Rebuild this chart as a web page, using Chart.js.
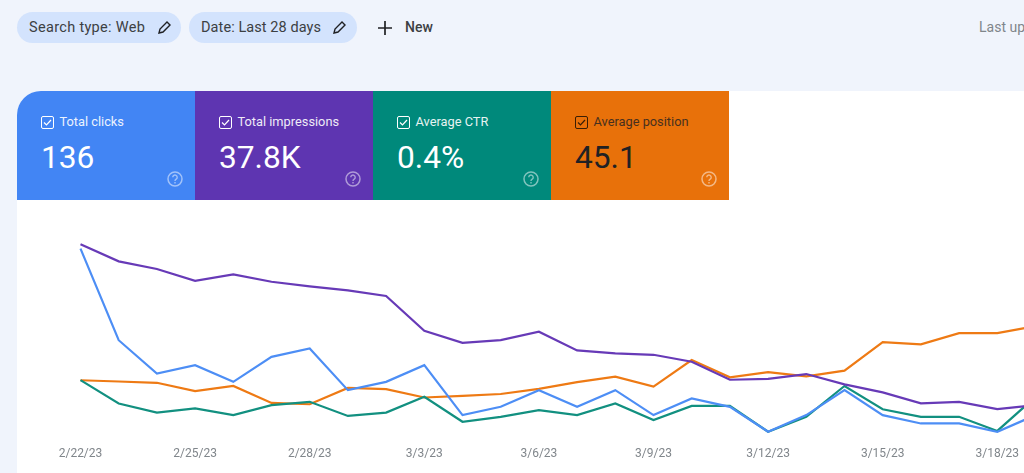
<!DOCTYPE html>
<html>
<head>
<meta charset="utf-8">
<title>Performance</title>
<script src="https://cdn.jsdelivr.net/npm/chart.js@4"></script>
<style>
    html, body { margin: 0; padding: 0; width: 1024px; height: 473px; overflow: hidden; background: #f0f4fc; font-family: Roboto, sans-serif; }
    .chip { position: absolute; top: 12px; height: 31px; border-radius: 16px; background: #d3e3fd; color: #3c4043; font-size: 14.5px; line-height: 31px; box-sizing: border-box; padding-left: 12px; white-space: nowrap; }
    .chip svg { position: absolute; top: 8px; width: 15px; height: 15px; }
    #newBtn { position: absolute; left: 405px; top: 12px; line-height: 31px; font-size: 14px; font-weight: 500; color: #3c4043; }
    #plus { position: absolute; left: 377px; top: 20px; width: 16px; height: 16px; }
    #updated { position: absolute; left: 979px; top: 12px; line-height: 31px; font-size: 14px; color: #80868b; white-space: nowrap; }
    #panel { position: absolute; left: 17px; top: 91px; width: 1007px; height: 382px; background: #fff; border-top-left-radius: 24px; overflow: hidden; }
    .card { position: absolute; top: 0; width: 178px; height: 109px; color: #fff; }
    .card .label { position: absolute; left: 42.5px; top: 22px; font-size: 12.8px; line-height: 18px; white-space: nowrap; opacity: .9; }
    .card .value { position: absolute; left: 24px; top: 47.5px; font-size: 31.7px; line-height: 38px; white-space: nowrap; }
    .card svg.box { position: absolute; left: 24px; top: 25px; width: 13px; height: 13px; }
    .card svg.help { position: absolute; left: 150px; top: 80px; width: 16px; height: 16px; opacity: .5; }
    #chartCanvas { position: absolute; left: 0; top: 200px; }
</style>
</head>
<body>
<div class="chip" style="left:17px;width:164px;letter-spacing:.32px">Search type: Web
    <svg style="left:140px" viewBox="0 0 15 15"><path d="M2 13l1-4 7-7 3 3-7 7z" fill="none" stroke="#202124" stroke-width="1.4"/></svg>
</div>
<div class="chip" style="left:189px;width:168px;letter-spacing:.08px">Date: Last 28 days
    <svg style="left:143px" viewBox="0 0 15 15"><path d="M2 13l1-4 7-7 3 3-7 7z" fill="none" stroke="#202124" stroke-width="1.4"/></svg>
</div>
<svg id="plus" viewBox="0 0 16 16"><path d="M8 1v14M1 8h14" stroke="#202124" stroke-width="1.7"/></svg>
<div id="newBtn">New</div>
<div id="updated">Last updated</div>

<div id="panel">
    <div class="card" style="left:0;background:#4285f4">
        <svg class="box" viewBox="0 0 13 13"><rect x=".5" y=".5" width="12" height="12" rx="1.5" fill="none" stroke="#fff"/><path d="M3 6.5l2.5 2.5 4.5-5" fill="none" stroke="#fff" stroke-width="1.2"/></svg>
        <div class="label">Total clicks</div><div class="value">136</div>
        <svg class="help" viewBox="0 0 16 16"><circle cx="8" cy="8" r="7" fill="none" stroke="#fff" stroke-width="1.5"/><path d="M5.8 6.3a2.2 2.2 0 1 1 3.4 1.8c-.8.5-1.2.9-1.2 1.8M8 11v1.4" fill="none" stroke="#fff" stroke-width="1.4"/></svg>
    </div>
    <div class="card" style="left:178px;background:#5e35b1">
        <svg class="box" viewBox="0 0 13 13"><rect x=".5" y=".5" width="12" height="12" rx="1.5" fill="none" stroke="#fff"/><path d="M3 6.5l2.5 2.5 4.5-5" fill="none" stroke="#fff" stroke-width="1.2"/></svg>
        <div class="label">Total impressions</div><div class="value">37.8K</div>
        <svg class="help" viewBox="0 0 16 16"><circle cx="8" cy="8" r="7" fill="none" stroke="#fff" stroke-width="1.5"/><path d="M5.8 6.3a2.2 2.2 0 1 1 3.4 1.8c-.8.5-1.2.9-1.2 1.8M8 11v1.4" fill="none" stroke="#fff" stroke-width="1.4"/></svg>
    </div>
    <div class="card" style="left:356px;background:#00897b">
        <svg class="box" viewBox="0 0 13 13"><rect x=".5" y=".5" width="12" height="12" rx="1.5" fill="none" stroke="#fff"/><path d="M3 6.5l2.5 2.5 4.5-5" fill="none" stroke="#fff" stroke-width="1.2"/></svg>
        <div class="label">Average CTR</div><div class="value">0.4%</div>
        <svg class="help" viewBox="0 0 16 16"><circle cx="8" cy="8" r="7" fill="none" stroke="#fff" stroke-width="1.5"/><path d="M5.8 6.3a2.2 2.2 0 1 1 3.4 1.8c-.8.5-1.2.9-1.2 1.8M8 11v1.4" fill="none" stroke="#fff" stroke-width="1.4"/></svg>
    </div>
    <div class="card" style="left:534px;background:#e8710a;color:#202124">
        <svg class="box" viewBox="0 0 13 13"><rect x=".5" y=".5" width="12" height="12" rx="1.5" fill="none" stroke="#3a1f05"/><path d="M3 6.5l2.5 2.5 4.5-5" fill="none" stroke="#3a1f05" stroke-width="1.2"/></svg>
        <div class="label" style="opacity:.8">Average position</div><div class="value">45.1</div>
        <svg class="help" viewBox="0 0 16 16"><circle cx="8" cy="8" r="7" fill="none" stroke="#fff" stroke-width="1.5"/><path d="M5.8 6.3a2.2 2.2 0 1 1 3.4 1.8c-.8.5-1.2.9-1.2 1.8M8 11v1.4" fill="none" stroke="#fff" stroke-width="1.4"/></svg>
    </div>
</div>
<canvas id="chartCanvas" width="1100" height="273"></canvas>

<script>
// Giá trị, mỗi ngày một điểm
const days = ['2/22/23','2/23/23','2/24/23','2/25/23','2/26/23','2/27/23','2/28/23','3/1/23','3/2/23','3/3/23','3/4/23','3/5/23','3/6/23','3/7/23','3/8/23','3/9/23','3/10/23','3/11/23','3/12/23','3/13/23','3/14/23','3/15/23','3/16/23','3/17/23','3/18/23','3/19/23'];
const clicks = [23,12,8,9,7,10,11,6,7,9,3,4,6,4,6,3,5,4,1,3,6,3,2,2,1,3];
const impressions = [2822,2577,2466,2297,2390,2283,2216,2159,2077,1576,1403,1442,1562,1293,1250,1230,1129,870,884,952,803,688,529,552,447,505];
const ctr = [0.72,0.44,0.33,0.38,0.30,0.42,0.46,0.29,0.33,0.52,0.22,0.28,0.36,0.30,0.44,0.24,0.41,0.41,0.10,0.28,0.65,0.37,0.28,0.28,0.11,0.52];
const position = [46.3,46.7,47.1,49.7,48.1,53.4,53.8,48.7,49.1,51.7,51.2,50.6,49.0,46.9,45.2,48.3,40.0,45.4,43.8,45.1,43.3,34.4,35.1,31.6,31.6,29.4];

function lineSeries(label, data, color, axisId) {
    return { label: label, data: data, borderColor: color, backgroundColor: color, borderWidth: 2.2, pointRadius: 0, tension: 0, yAxisID: axisId };
}

function hiddenAxis(max, reverse) {
    return { display: false, min: 0, max: max, reverse: reverse };
}

new Chart(document.getElementById('chartCanvas').getContext('2d'), {
    type: 'line',
    data: {
        labels: days,
        datasets: [
            lineSeries('Clicks', clicks, '#4d8ef5', 'yClicks'),
            lineSeries('Impressions', impressions, '#673ab7', 'yImpressions'),
            lineSeries('CTR', ctr, '#129080', 'yCtr'),
            lineSeries('Position', position, '#ee7a14', 'yPosition')
        ]
    },
    options: {
        responsive: false,
        animation: false,
        clip: false,
        layout: { padding: { left: 80.5, right: 64.5, top: 32, bottom: 5.5 } },
        plugins: { legend: { display: false }, tooltip: { enabled: false } },
        scales: {
            x: {
                offset: false,
                grid: { display: false, drawTicks: false },
                border: { display: false },
                ticks: {
                    autoSkip: false,
                    maxRotation: 0,
                    padding: 6.5,
                    color: '#80868b',
                    font: { family: 'Roboto', size: 12 },
                    callback: function(value, index) {
                        return index % 3 === 0 ? days[index] : '';
                    }
                }
            },
            yClicks: hiddenAxis(25, false),
            yImpressions: hiddenAxis(3000, false),
            yCtr: hiddenAxis(2.5, false),
            yPosition: hiddenAxis(65, true)
        }
    }
});
</script>
</body>
</html>
